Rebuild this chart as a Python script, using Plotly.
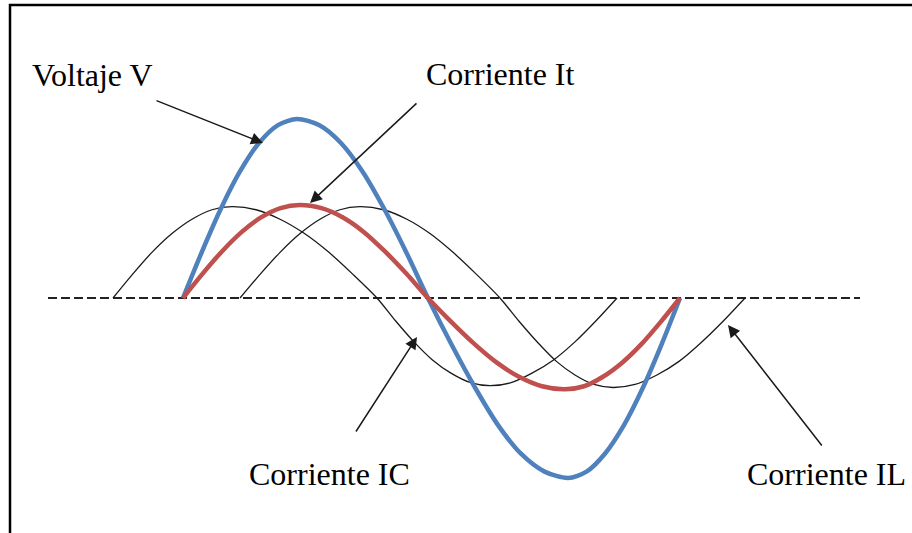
import plotly.graph_objects as go

# ---- data (phase in degrees, amplitude normalised to the voltage peak) ----
v_phase = [0, 13.75, 27.5, 41.25, 55.0, 68.8, 82.6, 98.5, 114.4, 130.0, 145.6, 161.5, 177.4,
           194.5, 211.5, 228.2, 244.8, 261.9, 278.9, 292.3, 305.6, 319.4, 333.2, 346.6, 360]
v_vals = [0, 0.259, 0.5, 0.707, 0.866, 0.966, 1.0, 0.966, 0.866, 0.707, 0.5, 0.259, 0,
          -0.26, -0.5, -0.71, -0.87, -0.97, -1.005, -0.97, -0.87, -0.71, -0.5, -0.26, 0]

it_phase = [0, 14.1, 28.2, 42.4, 56.5, 70.6, 84.7, 100.3, 115.9, 131.1, 146.3, 161.9, 177.4,
            194.1, 210.8, 227.1, 243.4, 260.1, 276.7, 290.5, 304.2, 318.3, 332.4, 346.2, 360]
it_vals = [0, 0.135, 0.26, 0.368, 0.45, 0.502, 0.52, 0.502, 0.45, 0.368, 0.26, 0.135, 0,
           -0.132, -0.255, -0.36, -0.44, -0.493, -0.51, -0.493, -0.44, -0.36, -0.255, -0.132, 0]

ic_phase = [-50.7, -36.6, -22.5, -8.0, 6.5, 21.0, 35.5, 52.9, 70.3, 88.0, 105.7, 123.1, 140.5,
            153.9, 167.3, 180.7, 194.1, 208.3, 222.4, 237.6, 252.8, 268.4, 283.9, 299.2, 314.4]
ic_vals = [0, 0.132, 0.255, 0.36, 0.44, 0.493, 0.51, 0.493, 0.44, 0.36, 0.255, 0.132, 0,
           -0.127, -0.245, -0.346, -0.42, -0.473, -0.49, -0.473, -0.42, -0.346, -0.245, -0.127, 0]

il_phase = [41.3, 55.8, 70.3, 84.8, 99.2, 113.7, 128.2, 145.2, 162.2, 178.9, 195.6, 212.6, 229.6,
            243.4, 257.1, 270.5, 283.9, 297.7, 311.5, 327.4, 343.3, 359.3, 375.2, 391.2, 407.1]
il_vals = [0, 0.132, 0.255, 0.36, 0.44, 0.493, 0.51, 0.493, 0.44, 0.36, 0.255, 0.132, 0,
           -0.13, -0.25, -0.354, -0.43, -0.483, -0.50, -0.483, -0.43, -0.354, -0.25, -0.13, 0]

labels = ["Voltaje V", "Corriente It", "Corriente IC", "Corriente IL"]

# ---- layout geometry ----
W, H = 912, 533
X0_PX, PX_PER_DEG = 183, 497 / 360.0
Y0_PX, PX_PER_UNIT = 298, 179.0


def px2x(px):
    return (px - X0_PX) / PX_PER_DEG


def px2y(py):
    return (Y0_PX - py) / PX_PER_UNIT


fig = go.Figure()

thin = dict(color="#1a1a1a", width=1.3, shape="spline", smoothing=0.8)
fig.add_trace(go.Scatter(x=ic_phase, y=ic_vals, mode="lines", line=thin, name=labels[2]))
fig.add_trace(go.Scatter(x=il_phase, y=il_vals, mode="lines", line=thin, name=labels[3]))
fig.add_trace(go.Scatter(x=v_phase, y=v_vals, mode="lines",
                         line=dict(color="#4F81BD", width=4.5, shape="spline", smoothing=0.8),
                         name=labels[0]))
fig.add_trace(go.Scatter(x=it_phase, y=it_vals, mode="lines",
                         line=dict(color="#C0504D", width=4.5, shape="spline", smoothing=0.8),
                         name=labels[1]))

# zero reference line (dashed)
fig.add_shape(type="line", xref="x", yref="y", x0=px2x(48), x1=px2x(860), y0=0, y1=0,
              line=dict(color="#222222", width=2, dash="9px,4px"), layer="below")

# frame (left and top edges)
fig.add_shape(type="path", xref="paper", yref="paper",
              path=f"M {10/W} 0 L {10/W} {1-5/H} L 1 {1-5/H}",
              line=dict(color="black", width=2.5))

font = dict(family="Liberation Serif, Times New Roman, serif", size=32, color="black")
text_pos = [(92, 75), (501, 74), (329, 474), (826, 474)]
for lab, (tx, ty) in zip(labels, text_pos):
    fig.add_annotation(text=lab, xref="paper", yref="paper", x=tx / W, y=1 - ty / H,
                       xanchor="center", yanchor="middle", showarrow=False, font=font)

arrows = [((155, 100), (263, 143)), ((418, 102), (310, 203)),
          ((355, 433), (417, 337)), ((823, 447), (728, 325))]
for (tx, ty), (hx, hy) in arrows:
    fig.add_annotation(x=px2x(hx), y=px2y(hy), ax=px2x(tx), ay=px2y(ty),
                       xref="x", yref="y", axref="x", ayref="y", text="",
                       showarrow=True, arrowhead=2, arrowsize=1.6, arrowwidth=1.5,
                       arrowcolor="#1a1a1a")

fig.update_layout(
    width=W, height=H, margin=dict(l=0, r=0, t=0, b=0),
    paper_bgcolor="white", plot_bgcolor="white", showlegend=False,
    xaxis=dict(range=[px2x(0), px2x(W)], visible=False, fixedrange=True),
    yaxis=dict(range=[px2y(H), px2y(0)], visible=False, fixedrange=True),
)

fig.write_html("out.html", config={"displayModeBar": False},
               post_script="document.body.style.margin='0';document.body.style.overflow='hidden';")
